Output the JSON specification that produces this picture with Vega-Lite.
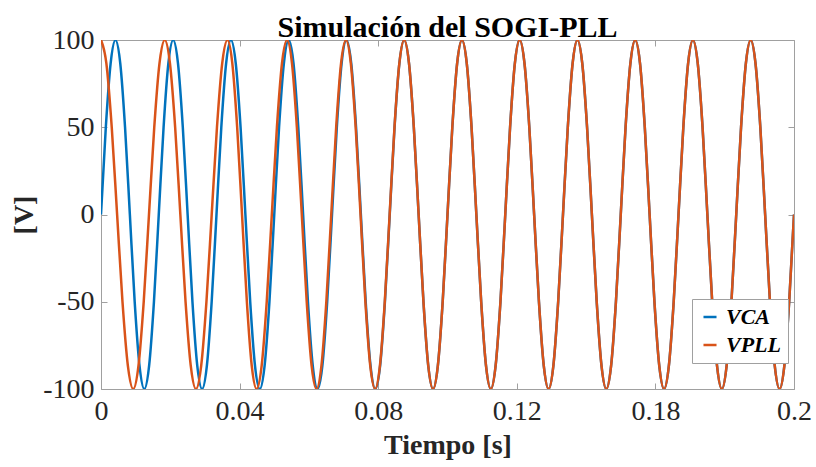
{
  "$schema": "https://vega.github.io/schema/vega-lite/v6.json",
  "width": 693,
  "height": 349,
  "autosize": {"type": "none"},
  "padding": {"left": 101, "top": 40, "right": 22, "bottom": 78},
  "background": "white",
  "title": {"text": "Simulación del SOGI-PLL", "font": "Liberation Serif", "fontSize": 30, "fontWeight": "bold", "color": "#000000", "anchor": "middle", "baseline": "alphabetic", "offset": -41},
  "config": {
    "view": {"stroke": "#a0a0a0", "strokeWidth": 1},
    "axis": {"grid": false, "domain": false, "tickColor": "#a0a0a0", "tickSize": -6, "tickWidth": 1,
      "labelFont": "Liberation Serif", "labelFontSize": 28, "labelColor": "#262626",
      "titleFont": "Liberation Serif", "titleFontSize": 28, "titleFontWeight": "bold", "titleColor": "#262626"}
  },
  "datasets": {
    "ca": [
      {"t":0,"v":0},{"t":0.00139,"v":50},{"t":0.00278,"v":86.6},{"t":0.00417,"v":100},{"t":0.00556,"v":86.6},{"t":0.00694,"v":50},
      {"t":0.00833,"v":0},{"t":0.00972,"v":-50},{"t":0.01111,"v":-86.6},{"t":0.0125,"v":-100},{"t":0.01389,"v":-86.6},{"t":0.01528,"v":-50},
      {"t":0.01667,"v":0},{"t":0.01806,"v":50},{"t":0.01944,"v":86.6},{"t":0.02083,"v":100},{"t":0.02222,"v":86.6},{"t":0.02361,"v":50},
      {"t":0.025,"v":0},{"t":0.02639,"v":-50},{"t":0.02778,"v":-86.6},{"t":0.02917,"v":-100},{"t":0.03056,"v":-86.6},{"t":0.03194,"v":-50},
      {"t":0.03333,"v":0},{"t":0.03472,"v":50},{"t":0.03611,"v":86.6},{"t":0.0375,"v":100},{"t":0.03889,"v":86.6},{"t":0.04028,"v":50},
      {"t":0.04167,"v":0},{"t":0.04306,"v":-50},{"t":0.04444,"v":-86.6},{"t":0.04583,"v":-100},{"t":0.04722,"v":-86.6},{"t":0.04861,"v":-50},
      {"t":0.05,"v":0},{"t":0.05139,"v":50},{"t":0.05278,"v":86.6},{"t":0.05417,"v":100},{"t":0.05556,"v":86.6},{"t":0.05694,"v":50},
      {"t":0.05833,"v":0},{"t":0.05972,"v":-50},{"t":0.06111,"v":-86.6},{"t":0.0625,"v":-100},{"t":0.06389,"v":-86.6},{"t":0.06528,"v":-50},
      {"t":0.06667,"v":0},{"t":0.06806,"v":50},{"t":0.06944,"v":86.6},{"t":0.07083,"v":100},{"t":0.07222,"v":86.6},{"t":0.07361,"v":50},
      {"t":0.075,"v":0},{"t":0.07639,"v":-50},{"t":0.07778,"v":-86.6},{"t":0.07917,"v":-100},{"t":0.08056,"v":-86.6},{"t":0.08194,"v":-50},
      {"t":0.08333,"v":0},{"t":0.08472,"v":50},{"t":0.08611,"v":86.6},{"t":0.0875,"v":100},{"t":0.08889,"v":86.6},{"t":0.09028,"v":50},
      {"t":0.09167,"v":0},{"t":0.09306,"v":-50},{"t":0.09444,"v":-86.6},{"t":0.09583,"v":-100},{"t":0.09722,"v":-86.6},{"t":0.09861,"v":-50},
      {"t":0.1,"v":0},{"t":0.10139,"v":50},{"t":0.10278,"v":86.6},{"t":0.10417,"v":100},{"t":0.10556,"v":86.6},{"t":0.10694,"v":50},
      {"t":0.10833,"v":0},{"t":0.10972,"v":-50},{"t":0.11111,"v":-86.6},{"t":0.1125,"v":-100},{"t":0.11389,"v":-86.6},{"t":0.11528,"v":-50},
      {"t":0.11667,"v":0},{"t":0.11806,"v":50},{"t":0.11944,"v":86.6},{"t":0.12083,"v":100},{"t":0.12222,"v":86.6},{"t":0.12361,"v":50},
      {"t":0.125,"v":0},{"t":0.12639,"v":-50},{"t":0.12778,"v":-86.6},{"t":0.12917,"v":-100},{"t":0.13056,"v":-86.6},{"t":0.13194,"v":-50},
      {"t":0.13333,"v":0},{"t":0.13472,"v":50},{"t":0.13611,"v":86.6},{"t":0.1375,"v":100},{"t":0.13889,"v":86.6},{"t":0.14028,"v":50},
      {"t":0.14167,"v":0},{"t":0.14306,"v":-50},{"t":0.14444,"v":-86.6},{"t":0.14583,"v":-100},{"t":0.14722,"v":-86.6},{"t":0.14861,"v":-50},
      {"t":0.15,"v":0},{"t":0.15139,"v":50},{"t":0.15278,"v":86.6},{"t":0.15417,"v":100},{"t":0.15556,"v":86.6},{"t":0.15694,"v":50},
      {"t":0.15833,"v":0},{"t":0.15972,"v":-50},{"t":0.16111,"v":-86.6},{"t":0.1625,"v":-100},{"t":0.16389,"v":-86.6},{"t":0.16528,"v":-50},
      {"t":0.16667,"v":0},{"t":0.16806,"v":50},{"t":0.16944,"v":86.6},{"t":0.17083,"v":100},{"t":0.17222,"v":86.6},{"t":0.17361,"v":50},
      {"t":0.175,"v":0},{"t":0.17639,"v":-50},{"t":0.17778,"v":-86.6},{"t":0.17917,"v":-100},{"t":0.18056,"v":-86.6},{"t":0.18194,"v":-50},
      {"t":0.18333,"v":0},{"t":0.18472,"v":50},{"t":0.18611,"v":86.6},{"t":0.1875,"v":100},{"t":0.18889,"v":86.6},{"t":0.19028,"v":50},
      {"t":0.19167,"v":0},{"t":0.19306,"v":-50},{"t":0.19444,"v":-86.6},{"t":0.19583,"v":-100},{"t":0.19722,"v":-86.6},{"t":0.19861,"v":-50},
      {"t":0.2,"v":0}
    ],
    "pll": [
      {"t":0,"v":100},{"t":0.00155,"v":86.6},{"t":0.0031,"v":50},{"t":0.00465,"v":0},{"t":0.0062,"v":-50},{"t":0.00775,"v":-86.6},
      {"t":0.0093,"v":-100},{"t":0.01082,"v":-86.6},{"t":0.01233,"v":-50},{"t":0.01385,"v":0},{"t":0.01537,"v":50},{"t":0.01688,"v":86.6},
      {"t":0.0184,"v":100},{"t":0.0199,"v":86.6},{"t":0.0214,"v":50},{"t":0.0229,"v":0},{"t":0.0244,"v":-50},{"t":0.0259,"v":-86.6},
      {"t":0.0274,"v":-100},{"t":0.02892,"v":-86.6},{"t":0.03043,"v":-50},{"t":0.03195,"v":0},{"t":0.03347,"v":50},{"t":0.03498,"v":86.6},
      {"t":0.0365,"v":100},{"t":0.0379,"v":86.6},{"t":0.0393,"v":50},{"t":0.0407,"v":0},{"t":0.0421,"v":-50},{"t":0.0435,"v":-86.6},
      {"t":0.0449,"v":-100},{"t":0.04637,"v":-86.6},{"t":0.04783,"v":-50},{"t":0.0493,"v":0},{"t":0.05077,"v":50},{"t":0.05223,"v":86.6},
      {"t":0.0537,"v":100},{"t":0.05512,"v":86.6},{"t":0.05653,"v":50},{"t":0.05795,"v":0},{"t":0.05937,"v":-50},{"t":0.06078,"v":-86.6},
      {"t":0.0622,"v":-100},{"t":0.06362,"v":-86.6},{"t":0.06503,"v":-50},{"t":0.06645,"v":0},{"t":0.06787,"v":50},{"t":0.06928,"v":86.6},
      {"t":0.0707,"v":100},{"t":0.0721,"v":86.6},{"t":0.0735,"v":50},{"t":0.0749,"v":0},{"t":0.0763,"v":-50},{"t":0.0777,"v":-86.6},
      {"t":0.0791,"v":-100},{"t":0.0805,"v":-86.6},{"t":0.0819,"v":-50},{"t":0.0833,"v":0},{"t":0.0847,"v":50},{"t":0.0861,"v":86.6},
      {"t":0.0875,"v":100},{"t":0.08889,"v":86.6},{"t":0.09028,"v":50},
      {"t":0.09167,"v":0},{"t":0.09306,"v":-50},{"t":0.09444,"v":-86.6},{"t":0.09583,"v":-100},{"t":0.09722,"v":-86.6},{"t":0.09861,"v":-50},
      {"t":0.1,"v":0},{"t":0.10139,"v":50},{"t":0.10278,"v":86.6},{"t":0.10417,"v":100},{"t":0.10556,"v":86.6},{"t":0.10694,"v":50},
      {"t":0.10833,"v":0},{"t":0.10972,"v":-50},{"t":0.11111,"v":-86.6},{"t":0.1125,"v":-100},{"t":0.11389,"v":-86.6},{"t":0.11528,"v":-50},
      {"t":0.11667,"v":0},{"t":0.11806,"v":50},{"t":0.11944,"v":86.6},{"t":0.12083,"v":100},{"t":0.12222,"v":86.6},{"t":0.12361,"v":50},
      {"t":0.125,"v":0},{"t":0.12639,"v":-50},{"t":0.12778,"v":-86.6},{"t":0.12917,"v":-100},{"t":0.13056,"v":-86.6},{"t":0.13194,"v":-50},
      {"t":0.13333,"v":0},{"t":0.13472,"v":50},{"t":0.13611,"v":86.6},{"t":0.1375,"v":100},{"t":0.13889,"v":86.6},{"t":0.14028,"v":50},
      {"t":0.14167,"v":0},{"t":0.14306,"v":-50},{"t":0.14444,"v":-86.6},{"t":0.14583,"v":-100},{"t":0.14722,"v":-86.6},{"t":0.14861,"v":-50},
      {"t":0.15,"v":0},{"t":0.15139,"v":50},{"t":0.15278,"v":86.6},{"t":0.15417,"v":100},{"t":0.15556,"v":86.6},{"t":0.15694,"v":50},
      {"t":0.15833,"v":0},{"t":0.15972,"v":-50},{"t":0.16111,"v":-86.6},{"t":0.1625,"v":-100},{"t":0.16389,"v":-86.6},{"t":0.16528,"v":-50},
      {"t":0.16667,"v":0},{"t":0.16806,"v":50},{"t":0.16944,"v":86.6},{"t":0.17083,"v":100},{"t":0.17222,"v":86.6},{"t":0.17361,"v":50},
      {"t":0.175,"v":0},{"t":0.17639,"v":-50},{"t":0.17778,"v":-86.6},{"t":0.17917,"v":-100},{"t":0.18056,"v":-86.6},{"t":0.18194,"v":-50},
      {"t":0.18333,"v":0},{"t":0.18472,"v":50},{"t":0.18611,"v":86.6},{"t":0.1875,"v":100},{"t":0.18889,"v":86.6},{"t":0.19028,"v":50},
      {"t":0.19167,"v":0},{"t":0.19306,"v":-50},{"t":0.19444,"v":-86.6},{"t":0.19583,"v":-100},{"t":0.19722,"v":-86.6},{"t":0.19861,"v":-50},
      {"t":0.2,"v":0}
    ]
  },
  "resolve": {"axis": {"x": "independent", "y": "independent"}},
  "layer": [
    {
      "data": {"name": "ca"},
      "mark": {"type": "line", "interpolate": "monotone", "strokeWidth": 2.5, "clip": true},
      "encoding": {
        "x": {"field": "t", "type": "quantitative", "scale": {"domain": [0, 0.2], "nice": false, "zero": false},
          "axis": {"orient": "bottom", "values": [0, 0.04, 0.08, 0.12, 0.16, 0.2], "format": "~g",
            "labelExpr": "datum.value > 0.155 && datum.value < 0.165 ? '0.18' : datum.label",
            "labelFlush": false, "labelOverlap": false, "labelPadding": 14, "title": "Tiempo [s]", "titlePadding": 6}},
        "y": {"field": "v", "type": "quantitative", "scale": {"domain": [-100, 100], "nice": false},
          "axis": {"orient": "left", "values": [-100, -50, 0, 50, 100], "labelExpr": "replace(datum.label, '−', '-')", "labelPadding": 13, "labelFlush": false, "labelOverlap": false, "title": "[V]", "titlePadding": 4}},
        "color": {"datum": "VCA", "type": "nominal",
          "scale": {"domain": ["VCA", "VPLL"], "range": ["#0072BD", "#D95319"]},
          "legend": {"orient": "none", "legendX": 591, "legendY": 259, "title": null,
            "strokeColor": "#a0a0a0", "fillColor": "white", "padding": 7,
            "labelFont": "Liberation Serif", "labelFontStyle": "italic", "labelFontWeight": "bold", "labelFontSize": 22, "labelColor": "#000000",
            "symbolType": "stroke", "symbolStrokeWidth": 2.5, "symbolSize": 170, "rowPadding": 6, "labelOffset": 5}}
      }
    },
    {
      "data": {"name": "pll"},
      "mark": {"type": "line", "interpolate": "monotone", "strokeWidth": 2.5, "clip": true},
      "encoding": {
        "x": {"field": "t", "type": "quantitative",
          "axis": {"orient": "top", "values": [0, 0.04, 0.08, 0.12, 0.16, 0.2], "labels": false, "title": null}},
        "y": {"field": "v", "type": "quantitative",
          "axis": {"orient": "right", "values": [-100, -50, 0, 50, 100], "labels": false, "title": null}},
        "color": {"datum": "VPLL", "type": "nominal"}
      }
    }
  ]
}
